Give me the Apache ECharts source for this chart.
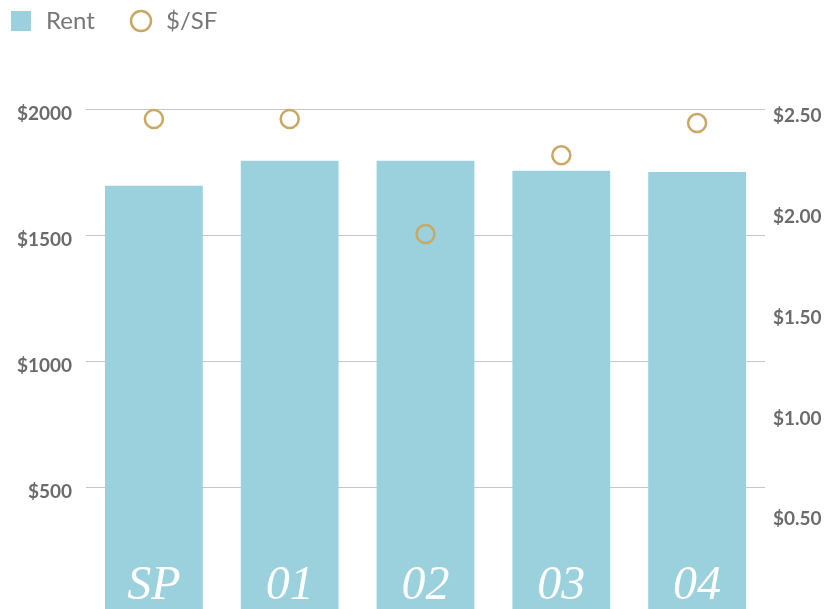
<!DOCTYPE html>
<html>
<head>
<meta charset="utf-8">
<script src="https://cdn.jsdelivr.net/npm/echarts@6/dist/echarts.min.js"></script>
<style>
  html, body { margin: 0; padding: 0; background: #fff; }
  #chart { width: 825px; height: 609px; }
</style>
</head>
<body>
<div id="chart"></div>
<script>
// chart data
const categories = ['SP', '01', '02', '03', '04'];
const rentValues = [1695, 1795, 1795, 1755, 1750];
const sfValues = [2.45, 2.45, 1.88, 2.27, 2.43];

const barColor = '#9AD1DC';
const gold = '#C9A863';
const labelGrey = '#6b6b6b';

const chart = echarts.init(document.getElementById('chart'));

chart.setOption({
  animation: false,
  legend: {
    left: 6,
    top: 4,
    itemWidth: 20,
    itemHeight: 20,
    itemGap: 35,
    textStyle: {fontSize: 24, color: '#777', fontFamily: 'Lato', padding: [0, 0, 0, 10]},
    data: [
      {name: 'Rent', icon: 'rect'},
      {name: '$/SF', icon: 'circle', itemStyle: {color: 'transparent', borderColor: gold, borderWidth: 2.5}}
    ]
  },
  // bottom edge (value 0) sits just below the canvas
  grid: {left: 86, right: 60, top: 109, height: 504, containLabel: false, outerBoundsMode: 'none'},
  xAxis: {
    type: 'category',
    data: categories,
    axisLine: {show: false},
    axisTick: {show: false},
    axisLabel: {
      inside: true,
      margin: 3,
      verticalAlign: 'bottom',
      color: '#fff',
      fontSize: 48,
      fontStyle: 'italic',
      fontFamily: 'Liberation Serif'
    },
    z: 10
  },
  yAxis: [
    {
      type: 'value',
      min: 0,
      max: 2000,
      interval: 500,
      axisLine: {show: false},
      axisTick: {show: false},
      splitLine: {lineStyle: {color: '#c6c6c6', width: 1}},
      axisLabel: {
        showMinLabel: false,
        margin: 14,
        verticalAlign: 'top',
        lineHeight: 10,
        color: labelGrey,
        fontSize: 19,
        fontWeight: 'bold',
        fontFamily: 'Lato',
        formatter: v => '$' + v
      }
    },
    {
      type: 'value',
      min: 0,
      max: 2.5,
      interval: 0.5,
      axisLine: {show: false},
      axisTick: {show: false},
      splitLine: {show: false},
      axisLabel: {
        showMinLabel: false,
        margin: 8,
        verticalAlign: 'top',
        lineHeight: 14,
        color: labelGrey,
        fontSize: 19,
        fontWeight: 'bold',
        fontFamily: 'Lato',
        formatter: v => '$' + v.toFixed(2)
      }
    }
  ],
  series: [
    {
      name: 'Rent',
      type: 'bar',
      data: rentValues,
      barCategoryGap: '28%',
      itemStyle: {color: barColor}
    },
    {
      name: '$/SF',
      type: 'scatter',
      yAxisIndex: 1,
      data: sfValues,
      symbol: 'circle',
      symbolSize: 18,
      itemStyle: {color: 'transparent', borderColor: gold, borderWidth: 2.5, opacity: 1},
      z: 5
    }
  ]
});
</script>
</body>
</html>
